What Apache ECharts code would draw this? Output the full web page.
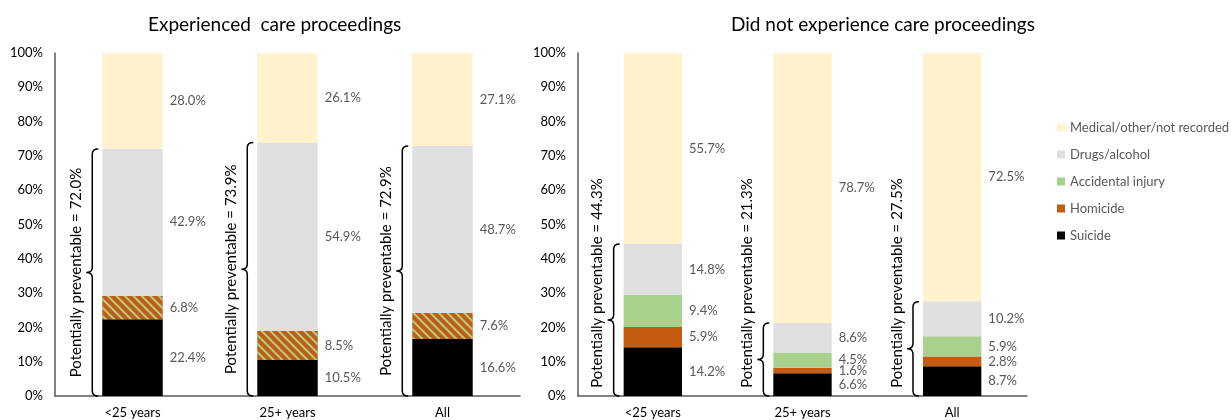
<!DOCTYPE html>
<html>
<head>
<meta charset="utf-8">
<script src="https://cdn.jsdelivr.net/npm/echarts@6/dist/echarts.min.js"></script>
<style>
  html, body { margin: 0; padding: 0; background: #fff; }
  #chart { width: 1231px; height: 420px; }
</style>
</head>
<body>
<div id="chart"></div>
<script>
// categories
var categories = ['<25 years', '25+ years', 'All'];
var yTicks = [0, 10, 20, 30, 40, 50, 60, 70, 80, 90, 100];

// experienced care proceedings (homicide + accidental shown together, hatched)
var careSuicide = [22.4, 10.5, 16.6];
var careHomAcc = [6.8, 8.5, 7.6];
var careDrugs = [42.9, 54.9, 48.7];
var careMedical = [28.0, 26.1, 27.1];
var carePreventable = [72.0, 73.9, 72.9];

// did not experience care proceedings
var noSuicide = [14.2, 6.6, 8.7];
var noHomicide = [5.9, 1.6, 2.8];
var noAccidental = [9.4, 4.5, 5.9];
var noDrugs = [14.8, 8.6, 10.2];
var noMedical = [55.7, 78.7, 72.5];
var noPreventable = [44.3, 21.3, 27.5];

var legendNames = ['Medical/other/not recorded', 'Drugs/alcohol', 'Accidental injury', 'Homicide', 'Suicide'];

var colors = {
    'Medical/other/not recorded': '#FFF2CC',
    'Drugs/alcohol': '#E0E0E0',
    'Accidental injury': '#A9D18E',
    'Homicide': '#C55A11',
    'Suicide': '#000000'
};

var FONT = 'Lato';
var BAR_W = '39%';
var TEXT_LEN = 218;

var myChart = echarts.init(document.getElementById('chart'));

function barSeries(name, data, gi, extra) {
    var s = {
        name: name,
        type: 'bar',
        stack: 'g' + gi,
        xAxisIndex: gi,
        yAxisIndex: gi,
        barWidth: BAR_W,
        data: data,
        itemStyle: { color: colors[name] || '#C55A11' },
        label: {
            show: true,
            position: 'right',
            distance: 7,
            color: '#595959',
            fontFamily: FONT,
            fontSize: 13,
            formatter: function (p) { return p.value.toFixed(1) + '%'; }
        }
    };
    if (extra) Object.assign(s.itemStyle, extra);
    return s;
}

// brace + rotated text, from scale coords
function braceSeries(vals, gi) {
    return {
        type: 'custom',
        xAxisIndex: gi,
        yAxisIndex: gi,
        silent: true,
        z: 5,
        data: vals.map(function (v, i) { return [i, v]; }),
        renderItem: function (params, api) {
            var i = api.value(0), v = api.value(1);
            var bot = api.coord([i, 0]);
            var top = api.coord([i, v]);
            var band = api.size([1, 0])[0];
            var barLeft = bot[0] - band * 0.39 / 2;
            var xr = barLeft - 4, xm = barLeft - 10, xt = barLeft - 16;
            var y0 = top[1], y1 = bot[1], ym = (y0 + y1) / 2, r = 5;
            var d = 'M' + xr + ' ' + y0 +
                ' Q' + xm + ' ' + y0 + ' ' + xm + ' ' + (y0 + r) +
                ' L' + xm + ' ' + (ym - r) +
                ' Q' + xm + ' ' + ym + ' ' + xt + ' ' + ym +
                ' Q' + xm + ' ' + ym + ' ' + xm + ' ' + (ym + r) +
                ' L' + xm + ' ' + (y1 - r) +
                ' Q' + xm + ' ' + y1 + ' ' + xr + ' ' + y1;
            var ty = Math.min(ym, y1 - 4 - TEXT_LEN / 2);
            return {
                type: 'group',
                children: [{
                    type: 'path',
                    shape: { pathData: d },
                    style: { fill: null, stroke: '#000', lineWidth: 1.5 }
                }, {
                    type: 'text',
                    x: barLeft - 26,
                    y: ty,
                    rotation: Math.PI / 2,
                    style: {
                        text: 'Potentially preventable = ' + v.toFixed(1) + '%',
                        fill: '#000',
                        font: '15px ' + FONT,
                        align: 'center',
                        verticalAlign: 'middle'
                    }
                }]
            };
        }
    };
}

var hatch = {
    decal: {
        symbol: 'rect',
        symbolSize: 1,
        dashArrayX: [1, 0],
        dashArrayY: [2, 4],
        rotation: Math.PI / 4,
        color: '#A9D18E'
    }
};

function axes(gi) {
    return {
        x: {
            type: 'category',
            gridIndex: gi,
            data: categories,
            axisLine: { lineStyle: { color: '#595959', width: 1.5 } },
            axisTick: { show: false },
            axisLabel: { color: '#000', fontFamily: FONT, fontSize: 13, margin: 10 }
        },
        y: {
            type: 'value',
            gridIndex: gi,
            min: yTicks[0],
            max: yTicks[yTicks.length - 1],
            interval: 10,
            axisLine: { show: true, lineStyle: { color: '#595959', width: 1.5 } },
            axisTick: { show: false },
            splitLine: { show: false },
            axisLabel: { color: '#000', fontFamily: FONT, fontSize: 13, margin: 12, formatter: '{value}%' }
        }
    };
}

var a0 = axes(0), a1 = axes(1);

var option = {
    animation: false,
    title: [{
        text: 'Experienced  care proceedings',
        left: 143, top: 10,
        textStyle: { fontFamily: FONT, fontSize: 19, fontWeight: 'normal', color: '#000' }
    }, {
        text: 'Did not experience care proceedings',
        left: 726, top: 10,
        textStyle: { fontFamily: FONT, fontSize: 19, fontWeight: 'normal', color: '#000' }
    }],
    legend: {
        data: legendNames,
        orient: 'vertical',
        left: 1052,
        top: 116,
        icon: 'rect',
        itemWidth: 8,
        itemHeight: 8,
        itemGap: 14,
        textStyle: { color: '#595959', fontFamily: FONT, fontSize: 13 }
    },
    grid: [
        { left: 55, top: 53, width: 465, bottom: 24 },
        { left: 578, top: 53, width: 449, bottom: 24 }
    ],
    xAxis: [a0.x, a1.x],
    yAxis: [a0.y, a1.y],
    series: [
        barSeries('Suicide', careSuicide, 0),
        barSeries('Homicide/accidental injury', careHomAcc, 0, hatch),
        barSeries('Drugs/alcohol', careDrugs, 0),
        barSeries('Medical/other/not recorded', careMedical, 0),
        braceSeries(carePreventable, 0),
        barSeries('Suicide', noSuicide, 1),
        barSeries('Homicide', noHomicide, 1),
        barSeries('Accidental injury', noAccidental, 1),
        barSeries('Drugs/alcohol', noDrugs, 1),
        barSeries('Medical/other/not recorded', noMedical, 1),
        braceSeries(noPreventable, 1)
    ]
};

myChart.setOption(option);
</script>
</body>
</html>
